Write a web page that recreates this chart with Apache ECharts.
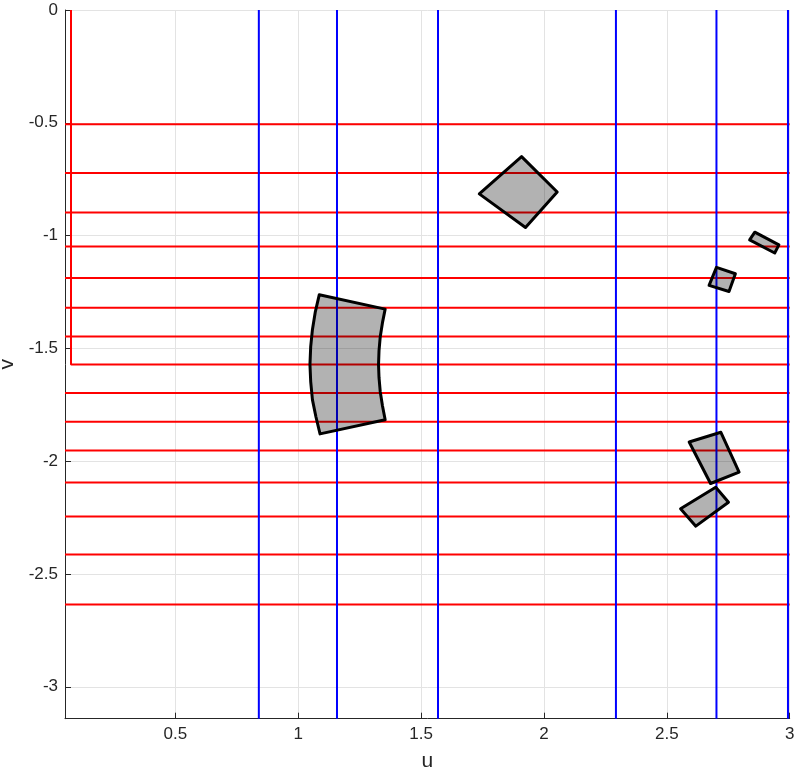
<!DOCTYPE html>
<html>
<head>
<meta charset="utf-8">
<script src="https://cdn.jsdelivr.net/npm/echarts@6/dist/echarts.min.js"></script>
<style>
  html, body { margin: 0; padding: 0; background: #fff; }
  #chart { width: 797px; height: 772px; }
</style>
</head>
<body>
<div id="chart"></div>
<script>
// axis limits
const uRange = [0.0513, 3.0]
const vRange = [-3.1416, 0]

// red horizontal lines (v levels), full width
const redLevels = [-0.506, -0.723, -0.898, -1.048, -1.188, -1.320, -1.447, -1.698, -1.825, -1.953, -2.095, -2.245, -2.414, -2.635]
// red boundary polyline
const redCorner = [[0.0757, 0], [0.0757, -1.572], [3.0, -1.572]]
// blue vertical lines (u levels)
const blueLevels = [0.840, 1.158, 1.569, 2.293, 2.702, 2.993]

// gray patches, [u, v] outline points
const patchBig = [
  [1.086, -1.262], [1.070, -1.337], [1.058, -1.417], [1.051, -1.492], [1.048, -1.572],
  [1.051, -1.647], [1.058, -1.727], [1.072, -1.802], [1.089, -1.879],
  [1.354, -1.816], [1.343, -1.754], [1.334, -1.692], [1.329, -1.630], [1.327, -1.572],
  [1.329, -1.510], [1.334, -1.448], [1.343, -1.386], [1.354, -1.326]
]
const patchDiamond = [[1.909, -0.650], [2.054, -0.807], [1.925, -0.964], [1.737, -0.815]]
const patchRect = [[2.858, -0.985], [2.956, -1.041], [2.939, -1.077], [2.837, -1.019]]
const patchSquare = [[2.702, -1.141], [2.779, -1.169], [2.753, -1.248], [2.672, -1.221]]
const patchQuadA = [[2.591, -1.915], [2.720, -1.872], [2.794, -2.049], [2.678, -2.099]]
const patchQuadB = [[2.556, -2.211], [2.699, -2.116], [2.751, -2.182], [2.618, -2.288]]

const axisColor = '#262626'
const font = 'Liberation Sans, Arial, Helvetica, sans-serif'

const lineSeries = (data, color) => ({
  type: 'line',
  data: data,
  symbol: 'none',
  silent: true,
  lineStyle: { color: color, width: 2 },
  z: 2
})

// 半透明灰色多边形
const patchSeries = (pts) => ({
  type: 'custom',
  data: pts,
  silent: true,
  z: 3,
  encode: { x: 0, y: 1 },
  renderItem: function (params, api) {
    if (params.dataIndex !== 0) return null
    return {
      type: 'polygon',
      shape: { points: pts.map((p) => api.coord(p)) },
      style: { fill: 'rgba(0,0,0,0.3)', stroke: '#000', lineWidth: 3, lineJoin: 'round' }
    }
  }
})

const series = []
redLevels.forEach((v) => series.push(lineSeries([[uRange[0], v], [uRange[1], v]], '#ff0000')))
series.push(lineSeries(redCorner, '#ff0000'))
blueLevels.forEach((u) => series.push(lineSeries([[u, vRange[1]], [u, vRange[0]]], '#0000ff')))
;[patchBig, patchDiamond, patchRect, patchSquare, patchQuadA, patchQuadB].forEach((p) => series.push(patchSeries(p)))

const mChart = echarts.init(document.getElementById('chart'))
mChart.setOption({
  animation: false,
  grid: { left: 65, right: 7.3, top: 10, bottom: 53.3, containLabel: false, outerBoundsMode: 'none' },
  xAxis: {
    type: 'value',
    min: uRange[0],
    max: uRange[1],
    name: 'u',
    nameLocation: 'middle',
    nameGap: 32,
    nameTextStyle: { fontSize: 21, color: axisColor, fontFamily: font },
    axisLine: { show: true, onZero: false, lineStyle: { color: axisColor, width: 1 } },
    axisTick: { show: true, inside: true, length: 6, lineStyle: { color: axisColor } },
    axisLabel: { showMinLabel: false, color: axisColor, fontSize: 17, fontFamily: font, margin: 7 },
    splitLine: { show: true, lineStyle: { color: '#e3e3e3', width: 1 } }
  },
  yAxis: {
    type: 'value',
    min: vRange[0],
    max: vRange[1],
    name: 'v',
    nameLocation: 'middle',
    nameGap: 45,
    nameTextStyle: { fontSize: 21, color: axisColor, fontFamily: font },
    axisLine: { show: true, onZero: false, lineStyle: { color: axisColor, width: 1 } },
    axisTick: { show: true, inside: true, length: 6, lineStyle: { color: axisColor } },
    axisLabel: { showMinLabel: false, color: axisColor, fontSize: 17, fontFamily: font, margin: 7 },
    splitLine: { show: true, lineStyle: { color: '#e3e3e3', width: 1 } }
  },
  series: series
})
</script>
</body>
</html>
